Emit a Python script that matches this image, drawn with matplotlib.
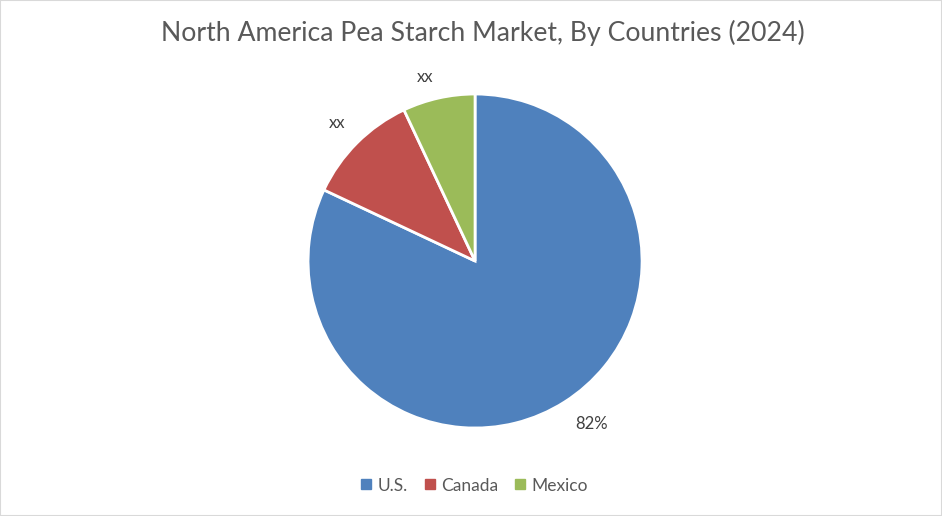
import numpy as np
import matplotlib.pyplot as plt
from matplotlib.patches import Rectangle
from matplotlib.lines import Line2D

# Dados do gráfico
countries = ['U.S.', 'Canada', 'Mexico']
shares = [82, 11, 7]
slice_labels = ['82%', 'xx', 'xx']
colors = ['#4F81BD', '#C0504D', '#9BBB59']

plt.rcParams['font.family'] = ['Lato', 'DejaVu Sans']

fig = plt.figure(figsize=(9.42, 5.16), dpi=100)
fig.patches.append(Rectangle((0, 0), 1, 1, transform=fig.transFigure, fill=False,
                             edgecolor='#D9D9D9', linewidth=1.5))

fig.text(0.513, 0.936, 'North America Pea Starch Market, By Countries (2024)',
         ha='center', va='center', fontsize=19.2, color='#595959')

ax = fig.add_axes([0.327, 0.1705, 0.3546, 0.6473])
wedges, texts = ax.pie(shares, colors=colors, labels=slice_labels, startangle=90,
                       counterclock=False, labeldistance=1.17,
                       wedgeprops=dict(edgecolor='white', linewidth=2),
                       textprops=dict(fontsize=12, color='#404040'))

# posicao dos rotulos por fatia (estilo Excel, fora da borda)
dists = [1.2, 1.17, 1.14]
shifts = [3, 0, 2.5]  # graus
for w, t, d, s in zip(wedges, texts, dists, shifts):
    ang = np.deg2rad((w.theta1 + w.theta2) / 2 + s)
    t.set_position((d * np.cos(ang), d * np.sin(ang)))
    t.set_ha('center')
    t.set_va('center')
ax.set_xlim(-1, 1)
ax.set_ylim(-1, 1)
ax.set_aspect('equal')

handles = [Line2D([0], [0], marker='s', linestyle='', markersize=7,
                  markerfacecolor=c, markeredgecolor=c, label=n)
           for c, n in zip(colors, countries)]
fig.legend(handles=handles, loc='center', bbox_to_anchor=(0.503, 0.059), ncol=3,
           frameon=False, fontsize=12.5, labelcolor='#595959', handletextpad=0.3,
           columnspacing=0.9, handlelength=0.7)

plt.savefig('out.png', dpi=100)
